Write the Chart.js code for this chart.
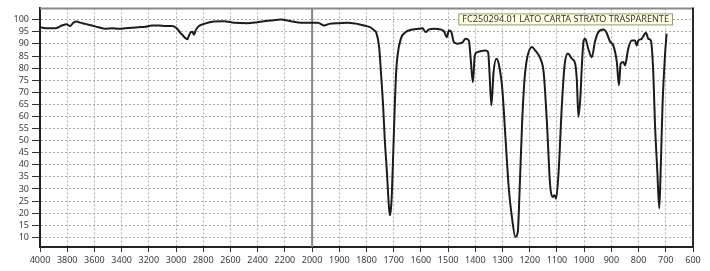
<!DOCTYPE html>
<html lang="it">
<head>
    <meta charset="UTF-8">
    <title>Spettro IR</title>
    <script src="https://cdn.jsdelivr.net/npm/chart.js"></script>
    <style>
        html, body { margin: 0; padding: 0; background: #ffffff; }
        #wrap { width: 710px; height: 271px; }
    </style>
</head>
<body>
    <div id="wrap"><canvas id="spectrum" width="710" height="271"></canvas></div>

    <script>
        const wavenumbers = [
            4000, 3939, 3889, 3840, 3803, 3779, 3754, 3729, 3705, 3668, 3619, 3570, 3520, 3471, 3422, 3373,
            3323, 3275, 3225, 3176, 3127, 3078, 3028, 2991, 2967, 2954, 2942, 2930, 2917, 2905, 2890, 2880,
            2868, 2856, 2832, 2795, 2721, 2647, 2573, 2475, 2401, 2303, 2229, 2155, 2081, 2007, 1979, 1955,
            1937, 1900, 1870, 1840, 1820, 1802, 1784, 1772, 1765, 1753, 1747, 1739, 1733, 1725, 1718, 1714,
            1710, 1707, 1702, 1696, 1691, 1686, 1674, 1656, 1631, 1607, 1594, 1583, 1570, 1552, 1528, 1515,
            1505, 1497, 1488, 1479, 1466, 1448, 1436, 1424, 1418, 1409, 1402, 1393, 1363, 1353, 1348, 1341,
            1333, 1323, 1314, 1301, 1289, 1277, 1265, 1253, 1244, 1237, 1228, 1219, 1210, 1192, 1180, 1161,
            1149, 1137, 1125, 1116, 1109, 1103, 1094, 1082, 1072, 1060, 1045, 1033, 1027, 1021, 1014, 1008,
            1002, 996, 985, 972, 960, 948, 929, 919, 905, 893, 880, 872, 866, 856, 850, 838,
            825, 813, 807, 801, 789, 773, 764, 755, 746, 740, 731, 724, 719, 712, 703, 697
        ];
        const transmittance = [
            96.9, 96.5, 96.5, 97.6, 98.1, 97.4, 98.8, 99.3, 98.8, 98.3, 97.6, 96.9, 96.3, 96.5, 96.3, 96.5,
            96.7, 96.9, 97.1, 97.6, 97.6, 97.4, 97.4, 96.3, 94.5, 93.8, 93.0, 92.4, 91.9, 93.5, 94.9, 95.0,
            93.8, 95.6, 97.4, 98.3, 99.3, 99.4, 98.8, 98.6, 99.0, 99.7, 100.1, 99.4, 98.8, 98.8, 98.8, 97.6,
            98.3, 98.6, 98.8, 98.4, 97.9, 97.4, 96.8, 95.6, 94.9, 88.0, 78.3, 64.6, 50.8, 37.0, 23.3, 19.1,
            22.0, 27.4, 44.0, 64.6, 78.3, 85.2, 92.1, 94.9, 96.0, 96.3, 96.5, 94.9, 96.0, 96.3, 96.0, 95.2,
            92.8, 95.6, 94.9, 90.7, 90.1, 90.5, 92.1, 91.4, 85.2, 74.2, 85.2, 86.6, 87.3, 86.6, 78.3, 64.6,
            78.3, 83.9, 81.8, 71.5, 50.8, 30.2, 17.8, 10.2, 12.2, 30.2, 57.7, 75.6, 83.9, 88.7, 87.3, 83.9,
            78.3, 57.7, 31.5, 26.7, 27.4, 26.0, 37.0, 64.6, 81.1, 86.0, 83.9, 81.8, 75.0, 59.8, 68.0, 82.0,
            91.4, 92.1, 88.0, 84.5, 91.0, 94.9, 96.0, 94.9, 91.0, 89.4, 82.5, 72.9, 81.8, 82.5, 81.1, 88.0,
            91.4, 91.4, 89.4, 91.4, 92.1, 94.6, 92.1, 91.4, 78.3, 57.7, 37.0, 22.0, 37.0, 64.6, 85.2, 94.2
        ];
        const xTickLabels = [4000, 3800, 3600, 3400, 3200, 3000, 2800, 2600, 2400, 2200, 2000,
            1900, 1800, 1700, 1600, 1500, 1400, 1300, 1200, 1100, 1000, 900, 800, 700, 600];
        const yTickLabels = [10, 15, 20, 25, 30, 35, 40, 45, 50, 55, 60, 65, 70, 75, 80, 85, 90, 95, 100];
        const sampleName = "FC250294.01 LATO CARTA STRATO TRASPARENTE";

        // sopra 2000 cm-1 la scala è compressa della metà
        const SPLIT = 2000;
        const toAxis = wn => wn > SPLIT ? SPLIT + (wn - SPLIT) / 2 : wn;
        const fromAxis = v => v > SPLIT ? SPLIT + (v - SPLIT) * 2 : v;

        const points = wavenumbers.map((wn, i) => ({ x: toAxis(wn), y: transmittance[i] }));

        const frameAndLabel = {
            id: 'frameAndLabel',
            beforeDatasetsDraw(chart) {
                const { ctx, chartArea, scales } = chart;
                const xs = scales.x.getPixelForValue(toAxis(SPLIT));
                ctx.save();
                ctx.strokeStyle = '#868686';
                ctx.lineWidth = 2;
                ctx.beginPath();
                ctx.moveTo(xs, chartArea.top);
                ctx.lineTo(xs, chartArea.bottom);
                ctx.stroke();
                ctx.restore();
            },
            afterDraw(chart) {
                const { ctx, chartArea } = chart;
                ctx.save();
                // bordo superiore e destro
                ctx.lineWidth = 2;
                ctx.strokeStyle = '#8a8a8a';
                ctx.beginPath();
                ctx.moveTo(chartArea.left, chartArea.top);
                ctx.lineTo(chartArea.right, chartArea.top);
                ctx.stroke();
                ctx.strokeStyle = '#2a2a2a';
                ctx.beginPath();
                ctx.moveTo(chartArea.right, chartArea.top - 1);
                ctx.lineTo(chartArea.right, chartArea.bottom);
                ctx.stroke();

                // etichetta del campione
                const family = '"Noto Sans", "DejaVu Sans", sans-serif';
                ctx.font = '10px ' + family;
                const size = 10 * 207 / ctx.measureText(sampleName).width;
                ctx.font = size.toFixed(2) + 'px ' + family;
                const w = ctx.measureText(sampleName).width;
                const bw = w + 8;
                const bx = chartArea.right - 20 - bw;
                const by = chartArea.top + 5;
                ctx.fillStyle = '#ffffe1';
                ctx.fillRect(bx, by, bw, 12);
                ctx.lineWidth = 1;
                ctx.strokeStyle = '#9a9a7a';
                ctx.strokeRect(bx + 0.5, by + 0.5, bw - 1, 11);
                ctx.fillStyle = '#333333';
                ctx.textBaseline = 'middle';
                ctx.fillText(sampleName, bx + 4, by + 6.5);
                ctx.restore();
            }
        };

        const tickFont = { family: '"Noto Sans", "DejaVu Sans", sans-serif', size: 9 };

        new Chart(document.getElementById('spectrum'), {
            type: 'line',
            data: {
                datasets: [{
                    data: points,
                    borderColor: '#1c1c1c',
                    borderWidth: 2,
                    pointRadius: 0,
                    cubicInterpolationMode: 'monotone',
                    fill: false
                }]
            },
            options: {
                responsive: false,
                animation: false,
                parsing: false,
                layout: { padding: { top: 8, right: 17, left: 0, bottom: 0 } },
                plugins: { legend: { display: false }, tooltip: { enabled: false } },
                scales: {
                    x: {
                        type: 'linear',
                        reverse: true,
                        min: toAxis(600),
                        max: toAxis(4000),
                        afterBuildTicks: scale => {
                            scale.ticks = xTickLabels.map(v => ({ value: toAxis(v) }));
                        },
                        afterFit: scale => { scale.height = 24; },
                        ticks: {
                            autoSkip: false,
                            maxRotation: 0,
                            padding: 3,
                            color: '#3a3a3a',
                            font: tickFont,
                            callback: value => String(Math.round(fromAxis(value)))
                        },
                        grid: {
                            color: ctx => ctx.tick && Math.round(fromAxis(ctx.tick.value)) === SPLIT ? 'rgba(0,0,0,0)' : '#ababab',
                            lineWidth: 1,
                            tickLength: 5,
                            tickColor: '#333'
                        },
                        border: { display: true, color: '#222', width: 2, dash: [2, 2] }
                    },
                    y: {
                        min: 6,
                        max: 104.7,
                        afterBuildTicks: scale => {
                            scale.ticks = yTickLabels.map(v => ({ value: v }));
                        },
                        afterFit: scale => { scale.width = 40; },
                        ticks: {
                            autoSkip: false,
                            padding: 3,
                            color: '#3a3a3a',
                            font: tickFont
                        },
                        grid: {
                            color: '#ababab',
                            lineWidth: 1,
                            tickLength: 8,
                            tickColor: '#333'
                        },
                        border: { display: true, color: '#222', width: 2, dash: [2, 2] }
                    }
                }
            },
            plugins: [frameAndLabel]
        });
    </script>
</body>
</html>
